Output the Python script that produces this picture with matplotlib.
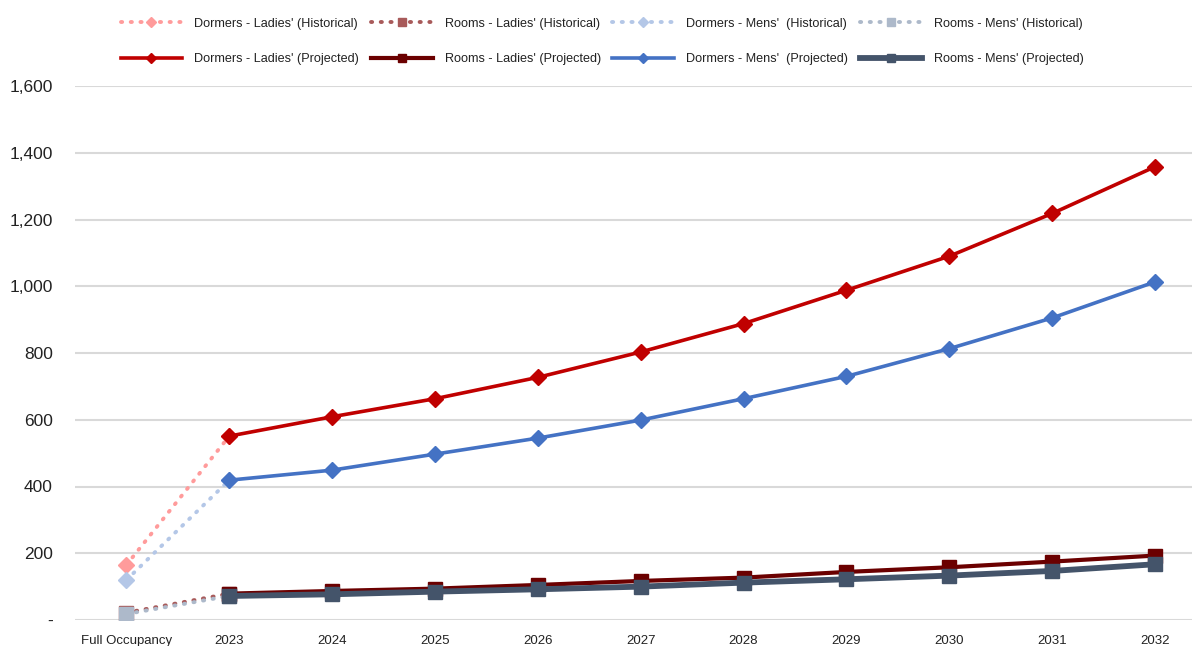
import numpy as np
import matplotlib
matplotlib.use("Agg")
import matplotlib.pyplot as plt
from matplotlib.ticker import FuncFormatter

plt.rcParams['font.family'] = ['Liberation Sans', 'DejaVu Sans']

categories = ["Full Occupancy", "2023", "2024", "2025", "2026", "2027",
              "2028", "2029", "2030", "2031", "2032"]

nan = np.nan
dormers_ladies_hist = [165, 551, nan, nan, nan, nan, nan, nan, nan, nan, nan]
rooms_ladies_hist = [22, 79, nan, nan, nan, nan, nan, nan, nan, nan, nan]
dormers_mens_hist = [120, 419, nan, nan, nan, nan, nan, nan, nan, nan, nan]
rooms_mens_hist = [18, 72, nan, nan, nan, nan, nan, nan, nan, nan, nan]

dormers_ladies_proj = [nan, 551, 609, 663, 727, 803, 888, 988, 1090, 1218, 1358]
rooms_ladies_proj = [nan, 79, 87, 94, 105, 117, 127, 144, 158, 175, 193]
dormers_mens_proj = [nan, 419, 449, 497, 545, 599, 663, 730, 813, 905, 1013]
rooms_mens_proj = [nan, 72, 77, 85, 92, 100, 112, 122, 133, 147, 167]

fig = plt.figure(figsize=(11.92, 6.46), dpi=100)
ax = fig.add_axes([75/1192, 26/646, 1 - 75/1192, (620-86)/646])

x = np.arange(len(categories))

handles = {}
dot = (0, (0.3, 2.2))
hist_kw = dict(lw=2.8, ls=dot, dash_capstyle='round', zorder=3)
handles['dlh'], = ax.plot(x, dormers_ladies_hist, color='#FF9B9B', marker='D', ms=8.5,
                          label="Dormers - Ladies' (Historical)", **hist_kw)
handles['dmh'], = ax.plot(x, dormers_mens_hist, color='#B4C7E7', marker='D', ms=8.5,
                          label="Dormers - Mens'  (Historical)", **hist_kw)
handles['rlh'], = ax.plot(x, rooms_ladies_hist, color='#A85A5A', marker='s', ms=10,
                          label="Rooms - Ladies' (Historical)", **hist_kw)
handles['rmh'], = ax.plot(x, rooms_mens_hist, color='#ADB9CA', marker='s', ms=10,
                          label="Rooms - Mens' (Historical)", **hist_kw)

handles['dlp'], = ax.plot(x, dormers_ladies_proj, color='#C00000', lw=2.6,
                          marker='D', ms=8.5, label="Dormers - Ladies' (Projected)", zorder=4)
handles['dmp'], = ax.plot(x, dormers_mens_proj, color='#4472C4', lw=2.6,
                          marker='D', ms=8.5, label="Dormers - Mens'  (Projected)", zorder=4)
handles['rlp'], = ax.plot(x, rooms_ladies_proj, color='#6B0000', lw=3.0,
                          marker='s', ms=10, label="Rooms - Ladies' (Projected)", zorder=4)
handles['rmp'], = ax.plot(x, rooms_mens_proj, color='#44546A', lw=4.2,
                          marker='s', ms=9.5, label="Rooms - Mens' (Projected)", zorder=5)

ax.set_xlim(-0.5, 10.36)
ax.set_ylim(0, 1600)
ax.set_yticks(np.arange(0, 1601, 200))
ax.yaxis.set_major_formatter(FuncFormatter(lambda v, p: '-' if v == 0 else f"{int(v):,}"))
ax.set_xticks(x)
ax.set_xticklabels(categories)
ax.tick_params(axis='y', length=0, pad=16, labelsize=12.5, labelcolor='#222222')
ax.tick_params(axis='x', length=0, pad=11, labelsize=9.5, labelcolor='#222222')
ax.grid(axis='y', color='#D9D9D9', lw=1.5)
ax.set_axisbelow(True)
for s in ax.spines.values():
    s.set_visible(False)

order = ['dlh', 'dlp', 'rlh', 'rlp', 'dmh', 'dmp', 'rmh', 'rmp']
leg = fig.legend([handles[k] for k in order], [handles[k].get_label() for k in order],
                 ncol=4, loc='upper center', bbox_to_anchor=(0.505, 0.99),
                 frameon=False, fontsize=9.1, handlelength=4.9, labelspacing=1.85,
                 columnspacing=0.9, handletextpad=0.95, markerscale=0.6)
for t in leg.get_texts():
    t.set_color('#222222')

fig.savefig('out.png', dpi=100)
